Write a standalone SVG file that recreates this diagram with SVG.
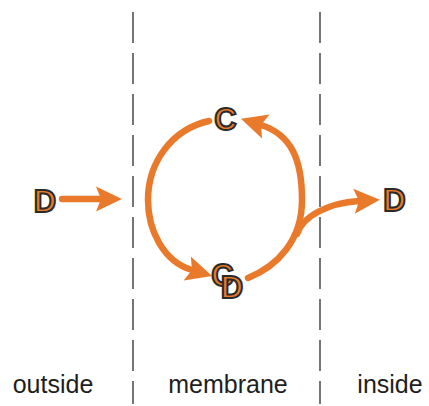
<svg xmlns="http://www.w3.org/2000/svg" width="429" height="406" viewBox="0 0 429 406">
<style>
.bg{fill:#fff}
.mem{stroke:#1a1a1a;stroke-width:1.2;stroke-dasharray:31 10;fill:none}
.flow{stroke:#E97A2B;stroke-width:6.5;fill:none;stroke-linecap:round;marker-end:url(#ah)}
.mol{font-family:"Liberation Sans",Arial,sans-serif;font-weight:bold;font-size:31px;fill:#E97A2B;stroke:#2a2a2a;stroke-width:2;text-anchor:middle}
.lab{font-family:"Liberation Sans",Arial,sans-serif;font-size:25px;fill:#1e1e1e;text-anchor:middle}
</style>
<defs>
<marker id="ah" markerUnits="userSpaceOnUse" markerWidth="60" markerHeight="60" refX="0" refY="0" orient="auto" overflow="visible">
<path d="M21,0 L-5,-12.5 L0,0 L-5,12.5 Z" fill="#E97A2B"/>
</marker>
</defs>
<rect class="bg" x="0" y="0" width="429" height="406"/>
<g id="membrane-boundaries">
<line class="mem" x1="133" y1="12" x2="133" y2="404"/>
<line class="mem" x1="320" y1="12" x2="320" y2="404"/>
</g>
<g id="connectors">
<path class="flow" d="M62,199 L101,199"/>
<path class="flow" d="M209,121 C171.9,129.3 148,162 148,200 C148,230 163.3,261.4 192,270"/>
<path class="flow" d="M248,278 C277.8,266.2 302,240 302,200 C302,160 291.5,134.6 261,125"/>
<path class="flow" d="M297,234 C303,216 328,203 359,201"/>
</g>
<g id="node-D-outside"><text class="mol" x="45" y="212">D</text></g>
<g id="node-C"><text class="mol" x="225.5" y="130">C</text></g>
<g id="node-CD"><text class="mol" x="222.5" y="286">C</text><text class="mol" x="232" y="297.5">D</text></g>
<g id="node-D-inside"><text class="mol" x="394.5" y="211">D</text></g>
<g id="region-labels">
<text class="lab" x="53" y="393">outside</text>
<text class="lab" x="228" y="393">membrane</text>
<text class="lab" x="390" y="393">inside</text>
</g>
</svg>
